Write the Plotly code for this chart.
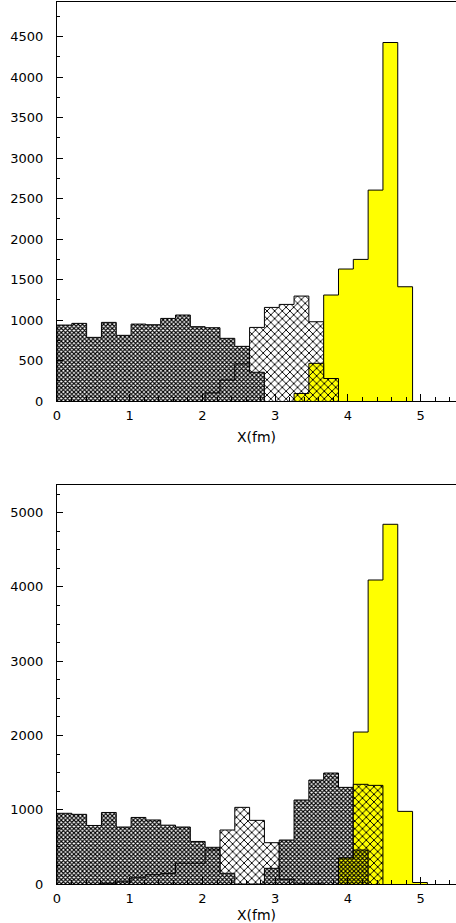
import numpy as np
import plotly.graph_objects as go

# ---------------- data ----------------
N_BINS = 27
X_MAX = 5.5
edges = np.linspace(0, X_MAX, N_BINS + 1)

# top panel (start bin index, bin contents)
top_dense_start = 0
top_dense = [938, 959, 786, 971, 811, 950, 942, 1020, 1062, 918, 905, 774, 675]
top_cross_start = 13
top_cross = [909, 1156, 1193, 1296, 979]
top_yel_start = 18
top_yel = [1309, 1630, 1749, 2605, 4428, 1411]
top_low_start = 10
top_low = [100, 259, 457, 355]
top_ycross_start = 16
top_ycross = [93, 465, 278]

# bottom panel
bot_dense_start = 0
bot_dense = [952, 938, 788, 963, 767, 896, 862, 792, 767, 573, 494]
bot_cross_start = 11
bot_cross = [727, 1032, 857, 556]
bot_dense2_start = 15
bot_dense2 = [592, 1131, 1400, 1494, 1301]
bot_yel_start = 19
bot_yel = [350, 2046, 4093, 4843, 978, 20]
bot_ycross_start = 20
bot_ycross = [1342, 1328]
bot_low_start = 3
bot_low = [10, 30, 85, 125, 140, 280, 280, 458, 144, 0, 0, 211, 63, 0, 0, 0, 350, 458]

top_yticks = [0, 500, 1000, 1500, 2000, 2500, 3000, 3500, 4000, 4500]
bot_yticks = [0, 1000, 2000, 3000, 4000, 5000]
x_ticks = [0, 1, 2, 3, 4, 5]
x_title = "X(fm)"

# ---------------- helpers ----------------
def step(start, vals):
    e = edges[start:start + len(vals) + 1]
    x = [e[0]] + list(e[:-1]) + [e[-1], e[-1]]
    y = [0] + list(vals) + [vals[-1], 0]
    return x, y

DENSE = dict(shape="x", size=3, solidity=0.62, fgcolor="black", fillmode="replace")
CROSS = dict(shape="x", size=5.4, solidity=0.32, fgcolor="black", fillmode="replace")

def hist(start, vals, xa, ya, pattern=None, bg="white", fill=None):
    x, y = step(start, vals)
    kw = dict(x=x, y=y, mode="lines", xaxis=xa, yaxis=ya,
              line=dict(color="black", width=1, shape="hv"),
              fill="toself", hoverinfo="skip", showlegend=False)
    if pattern is not None:
        p = dict(pattern)
        p["bgcolor"] = bg
        kw["fillpattern"] = p
        kw["fillcolor"] = bg
    else:
        kw["fillcolor"] = fill
    return go.Scatter(**kw)

YEL = "#ffff00"

fig = go.Figure()
# top
fig.add_trace(hist(top_dense_start, top_dense, "x", "y", DENSE))
fig.add_trace(hist(top_cross_start, top_cross, "x", "y", CROSS))
fig.add_trace(hist(top_yel_start, top_yel, "x", "y", fill=YEL))
fig.add_trace(hist(top_low_start, top_low, "x", "y", DENSE))
fig.add_trace(hist(top_ycross_start, top_ycross, "x", "y", CROSS, bg=YEL))
# bottom
fig.add_trace(hist(bot_dense_start, bot_dense, "x2", "y2", DENSE))
fig.add_trace(hist(bot_cross_start, bot_cross, "x2", "y2", CROSS))
fig.add_trace(hist(bot_dense2_start, bot_dense2, "x2", "y2", DENSE))
fig.add_trace(hist(bot_yel_start, bot_yel, "x2", "y2", fill=YEL))
fig.add_trace(hist(bot_ycross_start, bot_ycross, "x2", "y2", CROSS, bg=YEL))
# low-lying histogram: white background under the grey part, yellow under the peripheral part
split = bot_yel_start - bot_low_start
fig.add_trace(hist(bot_low_start, bot_low[:split - 1], "x2", "y2", DENSE))
fig.add_trace(hist(bot_yel_start, bot_low[split:], "x2", "y2", DENSE, bg=YEL))

H = 923.0
FONT = dict(family="DejaVu Sans", size=13, color="black")

def xax(anchor):
    return dict(anchor=anchor, domain=[0, 1], range=[0, 5.486],
                tickvals=x_ticks, ticks="inside", ticklen=7, tickwidth=1,
                tickcolor="black",
                minor=dict(dtick=0.2, tick0=0, ticks="inside", ticklen=4,
                           tickcolor="black", tickwidth=1),
                showline=True, linecolor="black", linewidth=1, mirror=True,
                showgrid=False, zeroline=False, tickfont=FONT,
                ticklabelstandoff=2, automargin=False, fixedrange=True)

def yax(anchor, dom, rng, ticks):
    return dict(anchor=anchor, domain=dom, range=rng, tickvals=ticks,
                ticks="inside", ticklen=6, tickwidth=1, tickcolor="black",
                minor=dict(dtick=250, tick0=0, ticks="inside", ticklen=3,
                           tickcolor="black", tickwidth=1),
                showline=True, linecolor="black", linewidth=1, mirror=False,
                showgrid=False, zeroline=False, tickfont=FONT,
                ticklabelstandoff=10, automargin=False, fixedrange=True)

fig.update_layout(
    width=456, height=923,
    margin=dict(l=57.3, r=0, t=0, b=0),
    paper_bgcolor="white", plot_bgcolor="white",
    xaxis=xax("y"),
    yaxis=yax("x", [(H - 401) / H, (H - 1.7) / H], [0, 4932], top_yticks),
    xaxis2=xax("y2"),
    yaxis2=yax("x2", [(H - 884) / H, (H - 485) / H], [0, 5372], bot_yticks),
    annotations=[
        dict(text=x_title, xref="paper", yref="paper", x=0.5, y=(H - 437) / H,
             xanchor="center", yanchor="middle", showarrow=False,
             font=dict(family="DejaVu Sans", size=14, color="black")),
        dict(text=x_title, xref="paper", yref="paper", x=0.5, y=(H - 915) / H,
             xanchor="center", yanchor="middle", showarrow=False,
             font=dict(family="DejaVu Sans", size=14, color="black")),
    ],
)

fig.write_html(
    "out.html",
    config={"displayModeBar": False},
    post_script="document.body.style.margin='0';document.body.style.overflow='hidden';",
)
